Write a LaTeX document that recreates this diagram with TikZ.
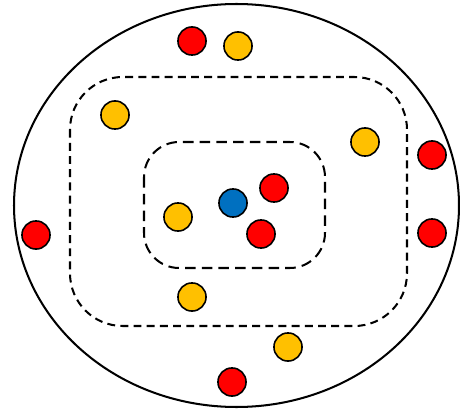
\documentclass[tikz,border=0pt]{standalone}
\definecolor{ink}{RGB}{0,0,0}
\definecolor{redfill}{RGB}{255,0,0}
\definecolor{goldfill}{RGB}{255,192,0}
\definecolor{bluefill}{RGB}{0,112,192}

\begin{document}
\begin{tikzpicture}[
  x=0.02cm,
  y=-0.02cm,
  line cap=round,
  line join=round,
  boundary/.style={
    draw=ink,
    line width=1.15pt
  },
  zone/.style={
    draw=ink,
    line width=1.15pt,
    dash pattern=on 4.5pt off 3pt,
    line cap=butt
  },
  ball/.style={
    circle,
    draw=ink,
    line width=0.9pt,
    minimum size=16pt,
    inner sep=0pt
  },
  redball/.style={ball,fill=redfill},
  goldball/.style={ball,fill=goldfill},
  blueball/.style={ball,fill=bluefill}
]
\useasboundingbox (0,0) rectangle (460,412);

% ---------------------------------------------------------------------------
% Outer boundary and the two dashed zones.
% ---------------------------------------------------------------------------
\draw[boundary] (236.5,205.5) ellipse [x radius=222.5, y radius=201.5];
\draw[zone,rounded corners=30] (70,77) rectangle (407,326);
\draw[zone,rounded corners=20,dash pattern=on 6pt off 3.5pt]
  (144,142) rectangle (325,268);

% Inner zone.
\node[blueball] (centre) at (233,203) {};
\node[redball]  (innerA) at (274,188) {};
\node[redball]  (innerB) at (261,234) {};
\node[goldball] (innerC) at (178,217) {};

% Middle zone.
\node[goldball] (midA) at (115,115) {};
\node[goldball] (midB) at (365,142) {};
\node[goldball] (midC) at (192,297) {};

% Outer ring.
\node[redball]  (outerA) at (192,41) {};
\node[goldball] (outerB) at (238,46) {};
\node[redball]  (outerC) at (432,155) {};
\node[redball]  (outerD) at (432,233) {};
\node[redball]  (outerE) at (36,235) {};
\node[goldball] (outerF) at (288,347) {};
\node[redball]  (outerG) at (232,382) {};

\end{tikzpicture}
\end{document}
